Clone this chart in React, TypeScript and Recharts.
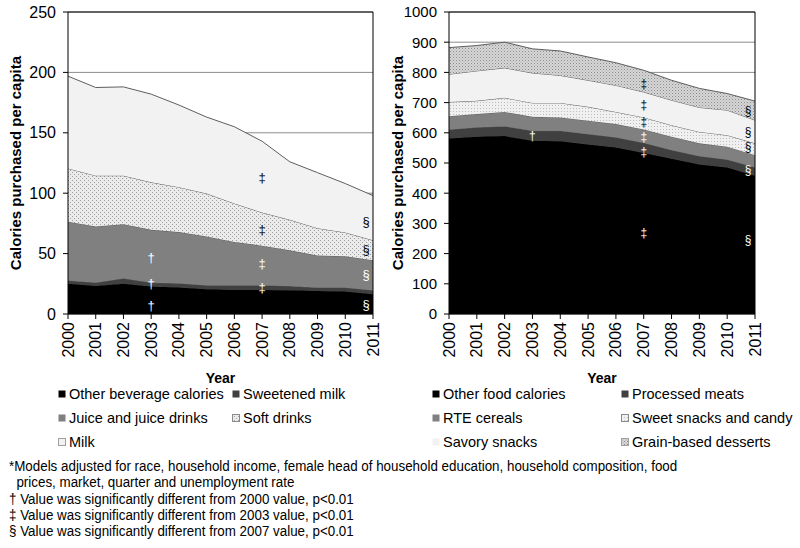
import { AreaChart, Area, XAxis, YAxis, CartesianGrid, ReferenceDot, ReferenceLine } from "recharts";

const FONT = "'Liberation Sans', Arial, Helvetica, sans-serif";

const years = ["2000", "2001", "2002", "2003", "2004", "2005", "2006", "2007", "2008", "2009", "2010", "2011"];

// beverages (left panel), calories per capita
const otherBeverage = [25, 23.2, 25.1, 22.7, 21.9, 20.5, 19.9, 19.9, 19.7, 19.1, 18.6, 16.4];
const sweetenedMilk = [2.8, 2.8, 4.4, 3.3, 3.5, 3.3, 3.9, 3.9, 3.5, 2.8, 3.3, 3.3];
const juiceDrinks = [48.6, 46.4, 44.8, 43.7, 42.4, 40.4, 35.8, 32.8, 29.5, 26.5, 25.9, 24.8];
const softDrinks = [44.1, 42.1, 40.2, 39.3, 37.2, 35.5, 31.9, 27.4, 25.3, 22.6, 19.7, 16.5];
const milk = [76.4, 73, 73.5, 73, 68, 63.3, 63.5, 59, 48, 46, 40.5, 37];

// foods (right panel)
const otherFood = [581, 587, 589, 574, 572, 561, 551, 533, 514, 495, 485, 458];
const processedMeats = [30, 31, 33, 33, 35, 35, 34, 34, 29, 28, 27, 28];
const rteCereals = [44, 44, 47, 46, 44, 44, 44, 44, 44, 42, 42, 40];
const sweetSnacks = [47, 44, 47, 46, 48, 46, 40, 40, 38, 38, 38, 39];
const savorySnacks = [92, 99, 99, 99, 91, 88, 88, 84, 83, 81, 83, 77];
const grainDesserts = [88, 84, 85, 80, 81, 77, 75, 72, 66, 63, 55, 63];

const beverageTicks = [0, 50, 100, 150, 200, 250];
const foodTicks = [0, 100, 200, 300, 400, 500, 600, 700, 800, 900, 1000];

// significance marks: year, height on the axis, symbol, colour
const beverageMarks = [
  { year: "2003", value: 7, sym: "†", fill: "#fff" },
  { year: "2003", value: 25, sym: "†", fill: "#fff" },
  { year: "2003", value: 47, sym: "†", fill: "#fff" },
  { year: "2007", value: 22, sym: "‡", fill: "#fff" },
  { year: "2007", value: 41.5, sym: "‡", fill: "#fff" },
  { year: "2007", value: 70, sym: "‡", fill: "#000" },
  { year: "2007", value: 113, sym: "‡", fill: "#000" },
  { year: "2011", value: 8, sym: "§", fill: "#fff" },
  { year: "2011", value: 33, sym: "§", fill: "#fff" },
  { year: "2011", value: 53, sym: "§", fill: "#000" },
  { year: "2011", value: 76.5, sym: "§", fill: "#000" },
];

const foodMarks = [
  { year: "2003", value: 589, sym: "†", fill: "#fff" },
  { year: "2007", value: 762, sym: "‡", fill: "#000" },
  { year: "2007", value: 691, sym: "‡", fill: "#000" },
  { year: "2007", value: 637, sym: "‡", fill: "#000" },
  { year: "2007", value: 586, sym: "‡", fill: "#fff" },
  { year: "2007", value: 537, sym: "‡", fill: "#fff" },
  { year: "2007", value: 268, sym: "‡", fill: "#fff" },
  { year: "2011", value: 671, sym: "§", fill: "#000" },
  { year: "2011", value: 604, sym: "§", fill: "#000" },
  { year: "2011", value: 553, sym: "§", fill: "#000" },
  { year: "2011", value: 477, sym: "§", fill: "#fff" },
  { year: "2011", value: 245, sym: "§", fill: "#fff" },
];

const footnotes = [
  "*Models adjusted for race, household income, female head of household education, household composition, food",
  "  prices, market, quarter and unemployment rate",
  "† Value was significantly different from 2000 value, p<0.01",
  "‡ Value was significantly different from 2003 value, p<0.01",
  "§ Value was significantly different from 2007 value, p<0.01",
];

type Series = { key: string; name: string; values: number[]; fill: string; border?: string };

const beverageSeries: Series[] = [
  { key: "otherBeverage", name: "Other beverage calories", values: otherBeverage, fill: "#000000" },
  { key: "sweetenedMilk", name: "Sweetened milk", values: sweetenedMilk, fill: "#404040" },
  { key: "juiceDrinks", name: "Juice and juice drinks", values: juiceDrinks, fill: "#808080" },
  { key: "softDrinks", name: "Soft drinks", values: softDrinks, fill: "url(#softDots)", border: "#8a8a8a" },
  { key: "milk", name: "Milk", values: milk, fill: "#f2f2f2", border: "#a0a0a0" },
];

const foodSeries: Series[] = [
  { key: "otherFood", name: "Other food calories", values: otherFood, fill: "#000000" },
  { key: "processedMeats", name: "Processed meats", values: processedMeats, fill: "#404040" },
  { key: "rteCereals", name: "RTE cereals", values: rteCereals, fill: "#808080" },
  { key: "sweetSnacks", name: "Sweet snacks and candy", values: sweetSnacks, fill: "url(#sweetDots)", border: "#8a8a8a" },
  { key: "savorySnacks", name: "Savory snacks", values: savorySnacks, fill: "#f2f2f2" },
  { key: "grainDesserts", name: "Grain-based desserts", values: grainDesserts, fill: "url(#grainDots)", border: "#a0a0a0" },
];

function toRows(series: Series[]) {
  return years.map((year, i) => {
    const row: Record<string, string | number> = { year };
    series.forEach((s) => (row[s.key] = s.values[i]));
    return row;
  });
}

function Patterns() {
  return (
    <svg width={0} height={0} style={{ position: "absolute" }}>
      <defs>
        <pattern id="softDots" width={4} height={4} patternUnits="userSpaceOnUse">
          <rect width={4} height={4} fill="#ebebeb" />
          <rect x={0} y={0} width={1} height={1} fill="#a0a0a0" />
          <rect x={2} y={2} width={1} height={1} fill="#a0a0a0" />
        </pattern>
        <pattern id="sweetDots" width={3} height={3} patternUnits="userSpaceOnUse">
          <rect width={3} height={3} fill="#f0f0f0" />
          <rect x={0} y={0} width={1} height={1} fill="#bdbdbd" />
        </pattern>
        <pattern id="grainDots" width={3} height={3} patternUnits="userSpaceOnUse">
          <rect width={3} height={3} fill="#d6d6d6" />
          <rect x={0} y={0} width={1} height={1} fill="#8c8c8c" />
          <rect x={1.5} y={1.5} width={1} height={1} fill="#a6a6a6" />
        </pattern>
      </defs>
    </svg>
  );
}

function XTick(props: any) {
  const { x, y, payload } = props;
  return (
    <text
      x={x}
      y={y}
      transform={`rotate(-90 ${x} ${y})`}
      textAnchor="end"
      dominantBaseline="central"
      fontSize={16}
      fontFamily={FONT}
      fill="#000"
    >
      {payload.value}
    </text>
  );
}

function YTitle(props: any) {
  const vb = props.viewBox;
  const x = vb.x + props.cx;
  const y = vb.y + vb.height / 2;
  return (
    <text
      x={x}
      y={y}
      transform={`rotate(-90 ${x} ${y})`}
      textAnchor="middle"
      dominantBaseline="central"
      fontSize={15}
      fontWeight="bold"
      fontFamily={FONT}
      fill="#000"
    >
      Calories purchased per capita
    </text>
  );
}

function XTitle(props: any) {
  const vb = props.viewBox;
  return (
    <text
      x={vb.x + vb.width / 2}
      y={vb.y + 69}
      textAnchor="middle"
      fontSize={14}
      fontWeight="bold"
      fontFamily={FONT}
      fill="#000"
    >
      Year
    </text>
  );
}

function Panel({
  series,
  ticks,
  marks,
  yWidth,
  marginRight,
  yFont,
  titleX,
  markFont,
}: {
  series: Series[];
  ticks: number[];
  marks: { year: string; value: number; sym: string; fill: string }[];
  yWidth: number;
  marginRight: number;
  yFont: number;
  titleX: number;
  markFont: number;
}) {
  const top = ticks[ticks.length - 1];
  return (
    <AreaChart width={390} height={395} data={toRows(series)} margin={{ top: 12, right: marginRight, bottom: 0, left: 0 }}>
      <CartesianGrid vertical={false} stroke="#8c8c8c" />
      <XAxis
        dataKey="year"
        height={81}
        interval={0}
        tick={<XTick />}
        tickSize={5}
        tickMargin={3}
        axisLine={{ stroke: "#000" }}
        tickLine={{ stroke: "#000" }}
        label={<XTitle />}
      />
      <YAxis
        width={yWidth}
        domain={[0, top]}
        ticks={ticks}
        interval={0}
        tickSize={5}
        tickMargin={7}
        tick={{ fill: "#000", fontSize: yFont, fontFamily: FONT }}
        axisLine={{ stroke: "#000" }}
        tickLine={{ stroke: "#000" }}
        label={<YTitle cx={titleX} />}
      />
      {series.map((s) => (
        <Area
          key={s.key}
          type="linear"
          dataKey={s.key}
          name={s.name}
          stackId="1"
          fill={s.fill}
          fillOpacity={1}
          stroke={s.fill === "#000000" ? "#000" : "#5e5e5e"}
          strokeWidth={1}
          isAnimationActive={false}
        />
      ))}
      <ReferenceLine y={top} stroke="#000" />
      <ReferenceLine x="2011" stroke="#000" />
      {marks.map((m, i) => (
        <ReferenceDot
          key={i}
          x={m.year}
          y={m.value}
          r={0}
          shape={(p: any) => (
            <text
              x={p.cx + (m.year === "2011" ? -7 : 0)}
              y={p.cy}
              textAnchor="middle"
              dominantBaseline="central"
              fontSize={markFont}
              fontFamily={FONT}
              fill={m.fill}
            >
              {m.sym}
            </text>
          )}
        />
      ))}
    </AreaChart>
  );
}

function LegendItem({ s, left, top }: { s: Series; left: number; top: number }) {
  return (
    <div
      style={{
        position: "absolute",
        left,
        top: top - 8,
        height: 16,
        lineHeight: "16px",
        display: "flex",
        alignItems: "center",
        whiteSpace: "nowrap",
        fontFamily: FONT,
        fontSize: 14.5,
        color: "#000",
      }}
    >
      <svg width={8} height={8} style={{ marginRight: 3 }}>
        <rect x={0.5} y={0.5} width={7} height={7} fill={s.fill} stroke={s.border ?? "none"} />
      </svg>
      {s.name}
    </div>
  );
}

const rowsY = [394, 418, 442];

export default function App() {
  return (
    <div style={{ position: "absolute", left: 0, top: 0, width: 800, height: 548, background: "#fff" }}>
      <Patterns />
      <div style={{ position: "absolute", left: 0, top: 0 }}>
        <Panel series={beverageSeries} ticks={beverageTicks} marks={beverageMarks} yWidth={68} marginRight={17} yFont={16} titleX={15} markFont={13} />
      </div>
      <div style={{ position: "absolute", left: 390, top: 0 }}>
        <Panel series={foodSeries} ticks={foodTicks} marks={foodMarks} yWidth={59} marginRight={25} yFont={15} titleX={7} markFont={12} />
      </div>
      {beverageSeries.map((s, i) => (
        <LegendItem key={s.key} s={s} left={i % 2 === 0 ? 58 : 232} top={rowsY[Math.floor(i / 2)]} />
      ))}
      {foodSeries.map((s, i) => (
        <LegendItem key={s.key} s={s} left={i % 2 === 0 ? 432 : 621} top={rowsY[Math.floor(i / 2)]} />
      ))}
      <div
        style={{
          position: "absolute",
          left: 9,
          top: 458,
          fontFamily: FONT,
          fontSize: 14,
          lineHeight: "16.3px",
          color: "#000",
          whiteSpace: "pre",
          transform: "scaleX(0.955)",
          transformOrigin: "left top",
        }}
      >
        {footnotes.map((line, i) => (
          <div key={i}>{line}</div>
        ))}
      </div>
    </div>
  );
}
